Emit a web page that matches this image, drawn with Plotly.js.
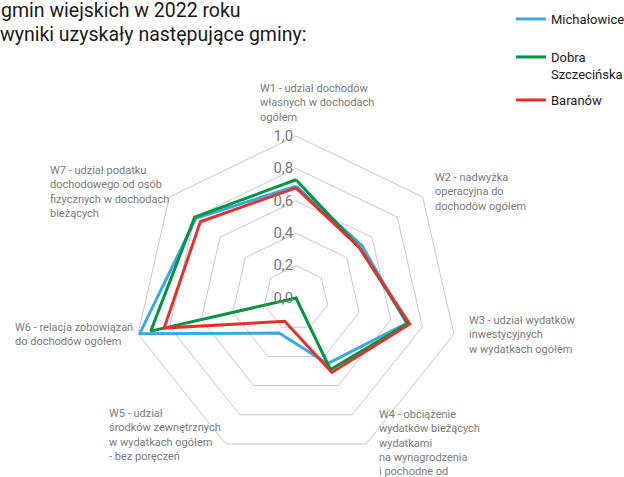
<!DOCTYPE html>
<html>
<head>
<meta charset="utf-8">
<script src="https://cdn.plot.ly/plotly-3.0.1.min.js"></script>
<style>html,body{margin:0;padding:0;background:#fff;}#chart{width:624px;height:477px;}</style>
</head>
<body>
<div id="chart"></div>
<script>
const categories = ['W1', 'W2', 'W3', 'W4', 'W5', 'W6', 'W7'];
const seriesNames = ['Michałowice', 'Dobra<br>Szczecińska', 'Baranów'];
const michalowice = [0.69, 0.52, 0.70, 0.45, 0.24, 0.99, 0.79];
const dobra = [0.73, 0.50, 0.71, 0.49, 0.00, 0.92, 0.80];
const baranow = [0.68, 0.50, 0.72, 0.51, 0.16, 0.835, 0.755];
const radialTicks = [0, 0.2, 0.4, 0.6, 0.8, 1.0];
const axisLabels = [
  'W1 - udział dochodów<br>własnych w dochodach<br>ogółem',
  'W2 - nadwyżka<br>operacyjna do<br>dochodów ogółem',
  'W3 - udział wydatków<br>inwestycyjnych<br>w wydatkach ogółem',
  'W4 - obciążenie<br>wydatków bieżących<br>wydatkami<br>na wynagrodzenia<br>i pochodne od',
  'W5 - udział<br>środków zewnętrznych<br>w wydatkach ogółem<br>- bez poręczeń',
  'W6 - relacja zobowiązań<br>do dochodów ogółem',
  'W7 - udział podatku<br>dochodowego od osób<br>fizycznych w dochodach<br>bieżących'
];
const titleLines = ['gmin wiejskich w 2022 roku', 'wyniki uzyskały następujące gminy:'];

const W = 624, H = 477;
const FONT = 'Roboto, "Liberation Sans", sans-serif';
const colors = ['#3aa9e0', '#00963f', '#e5302e'];
const allSeries = [michalowice, dobra, baranow];
const legendIds = ['legend', 'legend2', 'legend3'];
const legendTops = [4, 42, 85];

function closeLoop(a) { return a.concat([a[0]]); }

const traces = allSeries.map((vals, i) => ({
  type: 'scatterpolar',
  mode: 'lines',
  r: closeLoop(vals),
  theta: closeLoop(categories),
  name: seriesNames[i],
  legend: legendIds[i],
  line: {color: colors[i], width: 3},
  hoverinfo: 'skip'
}));

// label anchor positions (top-left, pixels)
const labelPos = [[258, 80], [433, 169], [467, 312], [377, 406], [107, 405], [13, 319], [48, 162]];
const annotations = axisLabels.map((t, i) => ({
  text: t, xref: 'paper', yref: 'paper',
  x: labelPos[i][0] / W, y: 1 - labelPos[i][1] / H,
  xanchor: 'left', yanchor: 'top', align: 'left', showarrow: false,
  font: {family: FONT, size: 11, color: '#7a7a7a'}
}));
const titlePos = [[-1, -3], [-2, 21]];
titleLines.forEach((t, i) => annotations.push({
  text: t, xref: 'paper', yref: 'paper', x: titlePos[i][0] / W, y: 1 - titlePos[i][1] / H,
  xanchor: 'left', yanchor: 'top', align: 'left', showarrow: false,
  font: {family: FONT, size: 19.5, color: '#1a1a1a'}
}));

const layout = {
  width: W, height: H,
  margin: {l: 0, r: 0, t: 0, b: 0, autoexpand: false},
  paper_bgcolor: '#ffffff',
  separators: ', ',
  showlegend: true,
  polar: {
    domain: {x: [134 / W, 458 / W], y: [17 / H, 341 / H]},
    bgcolor: 'rgba(0,0,0,0)',
    gridshape: 'linear',
    angularaxis: {
      type: 'category', categoryarray: categories,
      rotation: 90, direction: 'clockwise',
      showticklabels: false, ticks: '', showgrid: false,
      showline: true, linecolor: '#c8c8c8', linewidth: 1
    },
    radialaxis: {
      range: [0, 1], angle: 90, tickangle: 90, side: 'counterclockwise',
      tickvals: radialTicks, tickformat: '.1f',
      showline: false, ticks: '',
      gridcolor: '#c8c8c8', gridwidth: 1,
      tickfont: {family: FONT, size: 15, color: '#7a7a7a'}
    }
  },
  annotations: annotations
};
legendIds.forEach((id, i) => {
  layout[id] = {
    x: 511 / W, y: 1 - legendTops[i] / H, xanchor: 'left', yanchor: 'top',
    font: {family: FONT, size: 13, color: '#1a1a1a'},
    valign: 'top', bgcolor: 'rgba(0,0,0,0)'
  };
});

Plotly.newPlot('chart', traces, layout, {displayModeBar: false, staticPlot: true});
</script>
</body>
</html>
